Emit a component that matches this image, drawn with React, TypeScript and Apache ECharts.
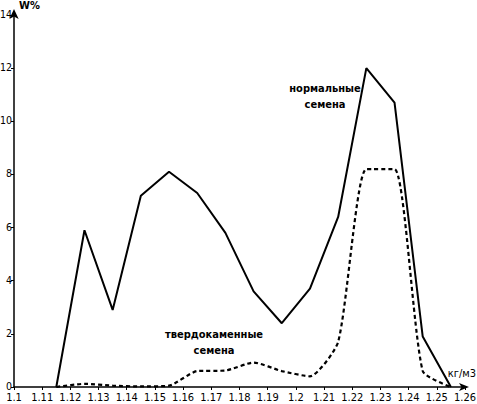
import React, { useEffect, useRef } from "react";
import * as echarts from "echarts";

const densities = [1.115, 1.125, 1.135, 1.145, 1.155, 1.165, 1.175, 1.185, 1.195, 1.205, 1.215, 1.225, 1.235, 1.245, 1.255];
const normalSeeds = [0, 5.9, 2.9, 7.2, 8.1, 7.3, 5.8, 3.6, 2.4, 3.7, 6.4, 12.0, 10.7, 1.9, 0];
const hardSeeds = [0, 0.12, 0.05, 0.02, 0.05, 0.6, 0.62, 0.92, 0.6, 0.4, 1.7, 8.2, 8.2, 0.6, 0];
const yTicks = [0, 2, 4, 6, 8, 10, 12, 14];
const xMin = 1.1;
const xMax = 1.26;
const xStep = 0.01;

const FONT = "'Liberation Sans Narrow', 'DejaVu Sans Condensed', 'Liberation Sans', sans-serif";

export default function App() {
  const ref = useRef<HTMLDivElement>(null);
  useEffect(() => {
    if (!ref.current) return;
    const chart = echarts.init(ref.current, null, { renderer: "svg" });
    chart.setOption({
      animation: false,
      backgroundColor: "#ffffff",
      grid: { left: 14, right: 12, top: 15, bottom: 17, containLabel: false, outerBoundsMode: "none" },
      xAxis: {
        type: "value",
        min: xMin,
        max: xMax,
        interval: xStep,
        axisLine: {
          show: true,
          lineStyle: { color: "#000", width: 1.5 },
          symbol: ["none", "arrow"],
          symbolSize: [6, 10],
          symbolOffset: [0, 4],
        },
        axisTick: { show: true, inside: false, length: 3, lineStyle: { color: "#000", width: 1 } },
        axisLabel: {
          color: "#000",
          fontSize: 11,
          fontFamily: FONT,
          margin: 5,
          formatter: (v: number) => String(parseFloat(v.toFixed(2))),
        },
        splitLine: { show: false },
      },
      yAxis: {
        type: "value",
        min: yTicks[0],
        max: yTicks[yTicks.length - 1],
        interval: 2,
        axisLine: {
          show: true,
          lineStyle: { color: "#000", width: 1.5 },
          symbol: ["none", "arrow"],
          symbolSize: [7, 10],
          symbolOffset: [0, 6],
        },
        axisTick: { show: true, inside: false, length: 3, lineStyle: { color: "#000", width: 1 } },
        axisLabel: { color: "#000", fontSize: 10.5, fontFamily: FONT, margin: 2, verticalAlign: "bottom", lineHeight: 12, padding: [0, 0, -5, 0] },
        splitLine: { show: false },
      },
      series: [
        {
          name: "нормальные семена",
          type: "line",
          data: densities.map((d, i) => [d, normalSeeds[i]]),
          showSymbol: false,
          symbol: "none",
          lineStyle: { color: "#000", width: 2 },
        },
        {
          name: "твердокаменные семена",
          type: "line",
          data: densities.map((d, i) => [d, hardSeeds[i]]),
          showSymbol: false,
          symbol: "none",
          smooth: 0.2,
          lineStyle: { color: "#000", width: 2.2, type: [4, 3] },
        },
      ],
      graphic: [
        { type: "text", left: 19, top: 0, style: { text: "W%", fontSize: 11, fontWeight: "bold", fontFamily: FONT, fill: "#000" } },
        { type: "text", right: 1, top: 368, style: { text: "кг/м3", fontSize: 11, fontFamily: FONT, fill: "#000" } },
        {
          type: "text",
          x: 325,
          y: 80,
          style: {
            text: "нормальные\nсемена",
            fontSize: 11,
            fontWeight: "bold",
            fontFamily: FONT,
            fill: "#000",
            align: "center",
            lineHeight: 16,
          },
        },
        {
          type: "text",
          x: 214,
          y: 326,
          style: {
            text: "твердокаменные\nсемена",
            fontSize: 11,
            fontWeight: "bold",
            fontFamily: FONT,
            fill: "#000",
            align: "center",
            lineHeight: 16,
          },
        },
      ],
    });
    return () => chart.dispose();
  }, []);
  return <div ref={ref} style={{ width: 477, height: 404, position: "fixed", left: 0, top: 0 }} />;
}
